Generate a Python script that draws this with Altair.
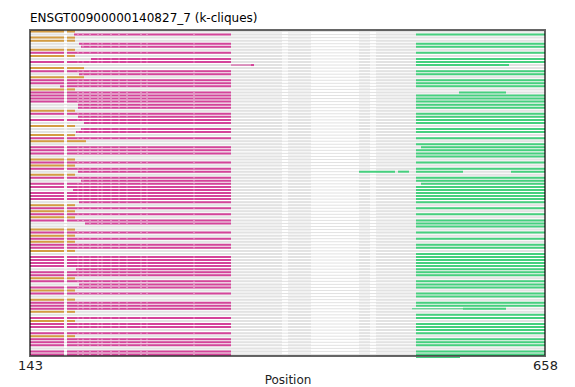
import altair as alt
import pandas as pd

# ---- data (positions in sequence coordinates) ----
X_MIN, X_MAX = 143, 658
row_kind = list(
    "GPGGPPGMGPMNGMPGMMPGMMMMPPGMPMPGPPGMGNMMMNGPGPMGPMMPMMMPPGMGMGPMNGMGPGMPGNMMMPMMMGPMMGPNGMMMGNPGMPNMGMMMNMM"
)
N_ROWS = len(row_kind)
# start of magenta block for partial rows (P), per row; 0 = default
mag_start = [0, 187, 0, 0, 192, 194, 0, 0, 0, 204, 0, 191, 0, 0, 192, 0, 0, 0, 173, 0,
             0, 0, 0, 0, 191, 191, 0, 0, 191, 0, 197, 0, 194, 189, 0, 0, 0, 0, 0, 0,
             0, 0, 0, 0, 192, 0, 191, 0, 0, 194, 0, 0, 186, 0, 0, 0, 192, 205, 0, 0,
             0, 0, 0, 198, 0, 0, 0, 0, 0, 204, 0, 0, 191, 0, 0, 0, 0, 0, 189, 0,
             0, 0, 0, 192, 0, 0, 0, 191, 0, 0, 0, 0, 0, 0, 0, 189, 0, 0, 194, 0,
             236, 0, 0, 0, 0, 0, 0, 0]
mag_end_special = {57: 281, 100: 304}
gold_end_special = {12: 197, 15: 197, 36: 199, 58: 193, 62: 193}
green_special = {  # row -> list of green segments
    11: [(529, 622)], 20: [(572, 619)], 46: [(472, 508), (511, 522), (529, 576), (624, 658)],
    57: [], 65: [(529, 622)], 91: [(576, 619)], 100: [], 104: [], 107: [(573, 658)],
    38: [(534, 658)], 50: [(534, 658)], 81: [(534, 658)],
}
# extra thin (1px) and thick pieces: (row, start, end, colour key)
extra_thin = [(11, 344, 364, "M"), (91, 525, 576, "E"), (107, 529, 573, "E")]
extra_thick = [(11, 364, 367, "M")]
white_ticks = [191, 196, 203, 211, 215, 224, 232, 240, 254, 260, 307]
common_gap = (177, 180)
grey_gaps = [(177, 180), (395, 401), (424, 472), (483, 489)]

GOLD, MAGENTA, GREEN, GREY = "#d49c42", "#d4449a", "#45d07e", "#e2e2e2"
CKEY = {"M": MAGENTA, "E": GREEN, "G": GOLD}


def cut(a, b, gaps):
    segs, cur = [], a
    for g0, g1 in gaps:
        if g1 <= cur or g0 >= b:
            continue
        if g0 > cur:
            segs.append((cur, g0))
        cur = max(cur, g1)
    if cur < b:
        segs.append((cur, b))
    return segs


recs, ticks = [], []
for r, k in enumerate(row_kind):
    recs.append(dict(row=r, x0=X_MIN, x1=X_MAX, layer="thin", c=GREY))
    for a, b in cut(X_MIN, X_MAX, grey_gaps):
        recs.append(dict(row=r, x0=a, x1=b, layer="thick", c=GREY))
    if k == "G":
        for a, b in cut(X_MIN, gold_end_special.get(r, 188), [common_gap]):
            recs.append(dict(row=r, x0=a, x1=b, layer="thick", c=GOLD))
        continue
    if k in "MP":
        s = mag_start[r] if mag_start[r] else X_MIN
        e = mag_end_special.get(r, 344)
        for a, b in cut(s, e, [common_gap]):
            recs.append(dict(row=r, x0=a, x1=b, layer="thick", c=MAGENTA))
        for t in white_ticks:
            if s < t < e:
                ticks.append(dict(row=r, x=t))
    for a, b in green_special.get(r, [(529, 658)]):
        recs.append(dict(row=r, x0=a, x1=b, layer="thick", c=GREEN))
for r, a, b, c in extra_thin:
    recs.append(dict(row=r, x0=a, x1=b, layer="cthin", c=CKEY[c]))
for r, a, b, c in extra_thick:
    recs.append(dict(row=r, x0=a, x1=b, layer="thick", c=CKEY[c]))

df = pd.DataFrame(recs)
tdf = pd.DataFrame(ticks)

W, H = 515, 326
xs = alt.Scale(domain=[X_MIN, X_MAX], nice=False, zero=False)
ys = alt.Scale(domain=[-0.5, N_ROWS - 0.5], reverse=True, nice=False, zero=False)

xax = alt.Axis(values=[X_MIN, X_MAX], title="Position", ticks=False, domain=False, grid=False,
               labelFontSize=13, labelPadding=3, titleFontSize=12, titleFontWeight="normal",
               titlePadding=2, labelColor="#222", titleColor="#222", labelFont="DejaVu Sans",
               titleFont="DejaVu Sans", labelFlush=False)

thin = alt.Chart(df[df.layer == "thin"]).mark_rule(strokeWidth=1, strokeCap="butt").encode(
    x=alt.X("x0:Q", scale=xs, axis=xax), x2="x1:Q",
    y=alt.Y("row:Q", scale=ys, axis=None),
    color=alt.Color("c:N", scale=None))
thick = alt.Chart(df[df.layer == "thick"]).mark_rule(strokeWidth=2, strokeCap="butt").encode(
    x=alt.X("x0:Q", scale=xs), x2="x1:Q",
    y=alt.Y("row:Q", scale=ys),
    color=alt.Color("c:N", scale=None))
cthin = alt.Chart(df[df.layer == "cthin"]).mark_rule(strokeWidth=1, strokeCap="butt").encode(
    x=alt.X("x0:Q", scale=xs), x2="x1:Q",
    y=alt.Y("row:Q", scale=ys),
    color=alt.Color("c:N", scale=None))
tk = alt.Chart(tdf).mark_tick(color="white", thickness=1, size=1, orient="vertical").encode(
    x=alt.X("x:Q", scale=xs), y=alt.Y("row:Q", scale=ys))
frame = alt.Chart(pd.DataFrame({"a": [0]})).mark_rect(
    fillOpacity=0, stroke="black", strokeOpacity=0.6, strokeWidth=2).encode(
    x=alt.value(0), x2=alt.value(W), y=alt.value(0), y2=alt.value(H))

chart = alt.layer(thin, thick, cthin, tk, frame).properties(
    width=W, height=H,
    title=alt.Title("ENSGT00900000140827_7 (k-cliques)", anchor="start", frame="group",
                    fontSize=12, fontWeight="normal", font="DejaVu Sans", color="black",
                    offset=4),
    autosize=alt.AutoSizeParams(type="none"),
    padding={"left": 22, "top": 22, "right": 22, "bottom": 31},
).configure_view(stroke=None)

chart.save("out.html", embed_options={"renderer": "svg", "actions": False})
